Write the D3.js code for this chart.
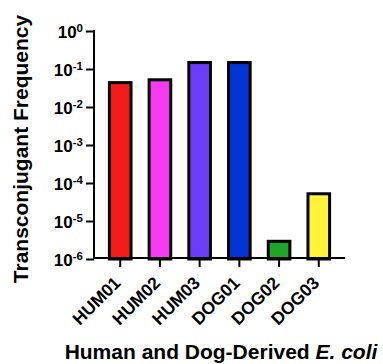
<!DOCTYPE html>
<html>
<head>
<meta charset="utf-8">
<script src="https://cdn.jsdelivr.net/npm/d3@7/dist/d3.min.js"></script>
<style>
  html, body { margin: 0; padding: 0; background: #fff; }
  svg { display: block; }
  text { font-family: "Liberation Sans", Arial, Helvetica, sans-serif; font-weight: bold; fill: #000; }
</style>
</head>
<body>
<svg id="chart" width="383" height="364"></svg>
<script>
// Strains and their transconjugant frequencies
const strains = ["HUM01", "HUM02", "HUM03", "DOG01", "DOG02", "DOG03"];
const frequencies = [0.048, 0.057, 0.162, 0.162, 3.2e-6, 5.7e-5];
const barColors = ["#f21c1c", "#f53cf0", "#6a3cf7", "#0433d4", "#1fa52a", "#fff23a"];
const yTickExponents = [0, -1, -2, -3, -4, -5, -6];

const svg = d3.select("#chart");

const plotLeft = 94, plotRight = 345, plotTop = 31, plotBottom = 259;

const x = d3.scaleBand()
  .domain(strains)
  .range([plotLeft, plotRight])
  .paddingInner(0.38)
  .paddingOuter(0.35);

const y = d3.scaleLog()
  .domain([1e-6, 1])
  .range([plotBottom, plotTop]);

// Bars (outer edge of the 3px outline sits on the value)
const sw = 3;
svg.append("g").selectAll("rect")
  .data(strains)
  .join("rect")
  .attr("x", d => x(d) + sw / 2)
  .attr("width", x.bandwidth() - sw)
  .attr("y", (d, i) => y(frequencies[i]) + sw / 2)
  .attr("height", (d, i) => y(1e-6) - y(frequencies[i]) - sw / 2)
  .attr("fill", (d, i) => barColors[i])
  .attr("stroke", "#000")
  .attr("stroke-width", sw);

// Y axis
const yAxis = svg.append("g")
  .attr("transform", `translate(${plotLeft},0)`)
  .call(d3.axisLeft(y)
    .tickValues(yTickExponents.map(e => Math.pow(10, e)))
    .tickSize(8)
    .tickSizeOuter(0)
    .tickPadding(3)
    .tickFormat(() => ""));
yAxis.selectAll("path, line").attr("stroke", "#000").attr("stroke-width", 2);
yAxis.select(".domain").attr("d", `M0,${plotTop - 1}V${plotBottom}`);

yAxis.selectAll(".tick").each(function (d) {
  const e = Math.round(Math.log10(d));
  const t = d3.select(this).select("text")
    .attr("x", -11)
    .attr("dy", "0.38em")
    .attr("text-anchor", "end")
    .style("font-size", "17px");
  t.text(null);
  t.append("tspan").text("10");
  t.append("tspan")
    .attr("dy", "-0.5em")
    .style("font-size", "11.5px")
    .text(e === 0 ? "0" : "-" + Math.abs(e));
});

// X axis
const xAxis = svg.append("g")
  .attr("transform", `translate(0,${plotBottom - 1})`)
  .call(d3.axisBottom(x).tickSize(9).tickSizeOuter(0).tickPadding(3));
xAxis.selectAll("path, line").attr("stroke", "#000").attr("stroke-width", 2);
xAxis.select(".domain").attr("d", `M${plotLeft - 1},0H${plotRight}`);
xAxis.selectAll(".tick text")
  .style("font-size", "17.5px")
  .attr("text-anchor", "end")
  .attr("dy", null)
  .attr("y", 0)
  .attr("transform", "translate(1.5,26) rotate(-45)");

// Axis titles
svg.append("text")
  .attr("transform", "translate(28,149) rotate(-90)")
  .attr("text-anchor", "middle")
  .style("font-size", "21px")
  .text("Transconjugant Frequency");

const xt = svg.append("text")
  .attr("x", 221)
  .attr("y", 359)
  .attr("text-anchor", "middle")
  .style("font-size", "21px");
xt.append("tspan").text("Human and Dog-Derived ");
xt.append("tspan").style("font-style", "italic").text("E. coli");
</script>
</body>
</html>
